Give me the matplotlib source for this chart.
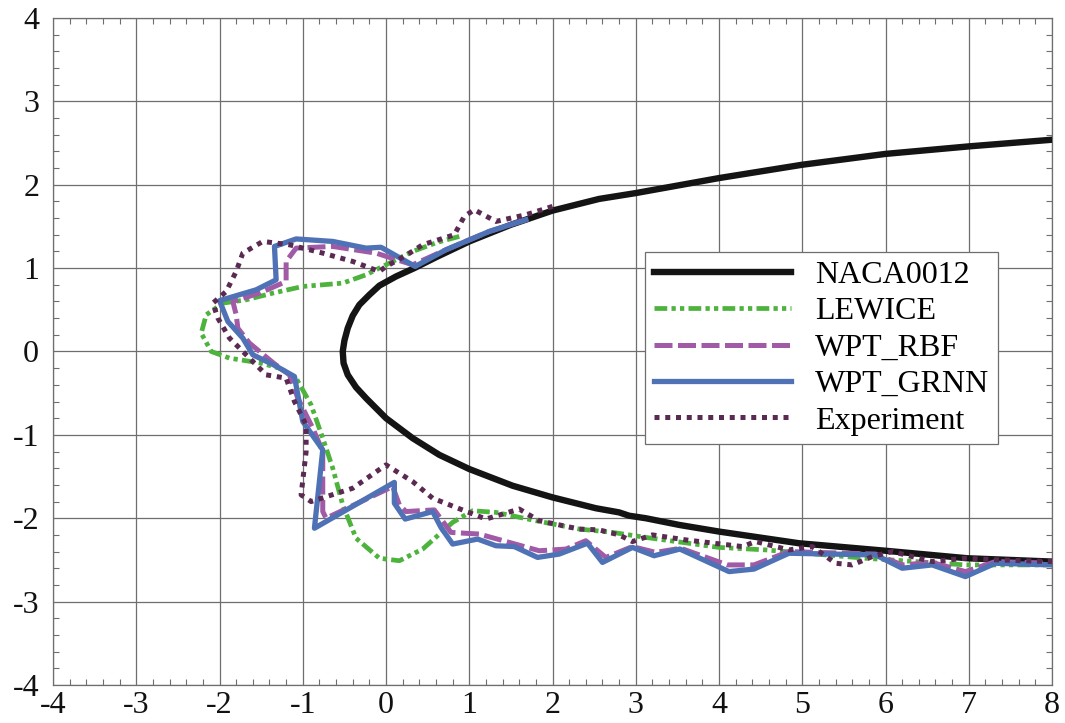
import numpy as np
import matplotlib.pyplot as plt
from matplotlib.ticker import MultipleLocator

plt.rcParams['font.family'] = ['Liberation Serif', 'DejaVu Serif']
plt.rcParams['axes.unicode_minus'] = False

# NACA0012 profile (upper side from trailing end to nose, then lower side)
naca_x = [8.0, 7.0, 6.0, 5.0, 4.0, 3.0, 2.56, 2.0, 1.5, 1.0, 0.6, 0.34, 0.12, -0.08, -0.2, -0.32,
          -0.4, -0.46, -0.5, -0.52, -0.51, -0.46, -0.36, -0.24, -0.12, 0.0, 0.32, 0.64, 1.0, 1.52,
          2.0, 2.52, 2.8, 2.92, 3.12, 3.52, 4.0, 4.96, 6.0, 6.98, 8.0]
naca_y = [2.54, 2.46, 2.37, 2.24, 2.08, 1.90, 1.83, 1.69, 1.52, 1.32, 1.13, 1.0, 0.9, 0.79, 0.68, 0.56,
          0.43, 0.28, 0.13, 0.0, -0.14, -0.28, -0.43, -0.56, -0.68, -0.8, -1.04, -1.24, -1.41, -1.61,
          -1.75, -1.88, -1.93, -1.97, -2.0, -2.08, -2.16, -2.3, -2.39, -2.48, -2.52]

lewice_x = [0.88, 0.62, 0.32, 0.08, -0.24, -0.52, -1.0, -1.36, -1.68, -1.96, -2.16, -2.22, -2.1, -1.88,
            -1.5, -1.28, -1.08, -0.9, -0.76, -0.64, -0.52, -0.36, -0.08, 0.16, 0.44, 0.8, 1.04, 1.32,
            1.8, 2.32, 2.72, 3.12, 4.0, 4.56, 5.76, 6.96, 8.0]
lewice_y = [1.38, 1.31, 1.2, 1.08, 0.92, 0.82, 0.78, 0.7, 0.62, 0.58, 0.44, 0.22, 0.0, -0.08,
            -0.14, -0.2, -0.32, -0.64, -1.04, -1.4, -1.84, -2.24, -2.48, -2.51, -2.37, -2.05, -1.91, -1.93,
            -2.03, -2.13, -2.17, -2.23, -2.35, -2.38, -2.48, -2.56, -2.56]

rbf_x = [1.68, 1.24, 0.72, 0.32, -0.12, -0.64, -1.08, -1.2, -1.2, -1.52, -1.84, -1.8, -1.78, -1.64,
         -1.35, -1.16, -1.06, -0.88, -0.76, -0.76, -0.72, 0.08, 0.16, 0.24, 0.58, 0.78, 1.12, 1.48,
         1.84, 2.16, 2.4, 2.64, 2.96, 3.24, 3.54, 4.1, 4.42, 4.84, 5.88, 6.2, 6.56, 6.96, 7.32, 8.0]
rbf_y = [1.58, 1.44, 1.22, 1.04, 1.18, 1.26, 1.24, 1.08, 0.84, 0.7, 0.6, 0.44, 0.28, 0.1,
         -0.14, -0.28, -0.56, -0.92, -1.2, -1.92, -2.0, -1.62, -1.84, -1.92, -1.9, -2.17, -2.19, -2.29,
         -2.39, -2.37, -2.27, -2.47, -2.34, -2.41, -2.36, -2.56, -2.56, -2.4, -2.43, -2.56, -2.53, -2.64, -2.52, -2.54]

grnn_x = [1.68, 1.24, 0.72, 0.35, -0.06, -0.24, -0.64, -1.08, -1.34, -1.32, -1.56, -2.0, -1.9, -1.72,
          -1.6, -1.35, -1.1, -1.0, -0.76, -0.86, 0.1, 0.1, 0.23, 0.56, 0.66, 0.8, 1.1, 1.32, 1.54,
          1.82, 2.08, 2.42, 2.6, 2.96, 3.22, 3.53, 4.12, 4.42, 4.84, 5.88, 6.2, 6.56, 6.96, 7.32, 8.0]
grnn_y = [1.58, 1.44, 1.22, 1.02, 1.25, 1.24, 1.32, 1.35, 1.26, 0.86, 0.74, 0.61, 0.36, 0.16,
          -0.04, -0.16, -0.3, -0.84, -1.18, -2.12, -1.57, -1.82, -2.01, -1.92, -2.11, -2.31, -2.25, -2.33, -2.34,
          -2.47, -2.43, -2.3, -2.53, -2.35, -2.45, -2.37, -2.64, -2.61, -2.42, -2.44, -2.6, -2.56, -2.7, -2.54, -2.56]

exp_x = [2.0, 1.68, 1.32, 1.06, 0.94, 0.82, 0.44, 0.22, 0.0, -0.08, -0.4, -0.76, -1.16, -1.48, -1.72,
         -1.8, -1.92, -2.08, -2.02, -1.88, -1.68, -1.44, -1.2, -1.1, -0.96, -0.96, -1.02, -0.9, -0.4,
         0.0, 0.32, 0.56, 0.84, 1.2, 1.6, 1.84, 2.32, 2.56, 2.8, 2.96, 3.2, 3.6, 4.28, 4.44, 4.84,
         5.12, 5.4, 5.6, 5.84, 6.08, 6.56, 6.96, 7.36, 8.0]
exp_y = [1.74, 1.64, 1.56, 1.7, 1.62, 1.4, 1.28, 1.14, 1.02, 0.96, 1.08, 1.18, 1.28, 1.32, 1.18,
         0.96, 0.72, 0.58, 0.4, 0.16, -0.04, -0.28, -0.32, -0.6, -0.88, -1.2, -1.72, -1.8, -1.64,
         -1.36, -1.56, -1.76, -1.87, -2.01, -1.89, -2.03, -2.13, -2.14, -2.2, -2.28, -2.2, -2.26, -2.34, -2.28, -2.38,
         -2.34, -2.54, -2.56, -2.46, -2.4, -2.52, -2.48, -2.5, -2.52]

fig = plt.figure(figsize=(10.65, 7.23), dpi=100)
ax = fig.add_axes([0.0498, 0.0526, 0.938, 0.9225])

ax.plot(naca_x, naca_y, color='#141414', lw=4.6, label='NACA0012', zorder=3)
ax.plot(lewice_x, lewice_y, color='#4db33d', lw=3.4, dashes=(2.7, 0.9, 0.9, 0.9, 0.9, 0.9),
        label='LEWICE', zorder=4)
ax.plot(rbf_x, rbf_y, color='#a05aa6', lw=3.6, dashes=(3.6, 1.1), label='WPT_RBF', zorder=5)
ax.plot(grnn_x, grnn_y, color='#4f72b6', lw=3.8, label='WPT_GRNN', zorder=6)
ax.plot(exp_x, exp_y, color='#5a2a52', lw=3.6, dashes=(1.0, 1.15), label='Experiment', zorder=7)

ax.set_xlim(-4, 8)
ax.set_ylim(-4, 4)
ax.xaxis.set_major_locator(MultipleLocator(1))
ax.yaxis.set_major_locator(MultipleLocator(1))
ax.xaxis.set_minor_locator(MultipleLocator(0.2))
ax.yaxis.set_minor_locator(MultipleLocator(0.2))
ax.grid(True, which='major', color='#6e6e6e', lw=0.9)
ax.tick_params(which='both', direction='in', top=True, right=True, colors='#6e6e6e',
               labelcolor='#111111', labelsize=23)
ax.tick_params(which='major', length=0)
ax.tick_params(which='minor', length=4, width=0.8)
ax.tick_params(axis='x', pad=4)
ax.tick_params(axis='y', pad=10)
for s in ax.spines.values():
    s.set_color('#6e6e6e')
    s.set_linewidth(0.9)

leg = ax.legend(loc='upper left', bbox_to_anchor=(0.593, 0.649), fontsize=23, handlelength=4.3,
                handletextpad=0.75, labelspacing=0.22, borderaxespad=0, borderpad=0.27,
                fancybox=False, framealpha=1, edgecolor='#6e6e6e')
leg.get_frame().set_linewidth(0.9)

fig.savefig('out.png', dpi=100)
